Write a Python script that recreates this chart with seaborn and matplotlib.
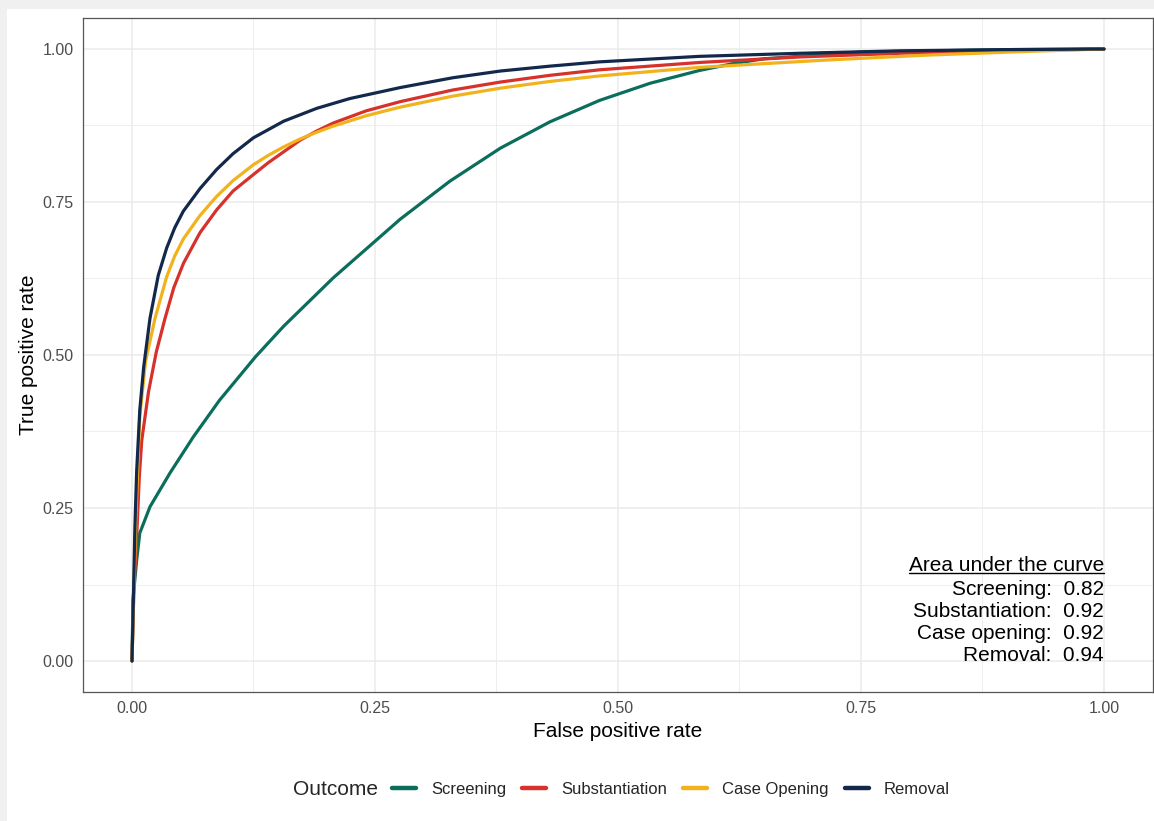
import matplotlib
matplotlib.use("Agg")
import matplotlib.pyplot as plt
from matplotlib.patches import Rectangle
from matplotlib.lines import Line2D
import seaborn as sns
import pandas as pd

# ROC curves per outcome (false positive rate, true positive rate)
screening_fpr = [0, 0.001, 0.0048, 0.008, 0.0185, 0.039, 0.063, 0.09, 0.127, 0.156, 0.207,
                 0.276, 0.327, 0.379, 0.43, 0.481, 0.533, 0.584, 0.618, 0.65, 0.75, 0.9, 1.0]
screening_tpr = [0, 0.10, 0.165, 0.209, 0.252, 0.307, 0.366, 0.426, 0.497, 0.547, 0.626,
                 0.722, 0.784, 0.838, 0.881, 0.916, 0.944, 0.965, 0.976, 0.984, 0.995, 0.999, 1.0]

substantiation_fpr = [0, 0.002, 0.005, 0.0075, 0.01, 0.017, 0.025, 0.034, 0.043, 0.053, 0.07,
                      0.087, 0.104, 0.125, 0.14, 0.156, 0.173, 0.19, 0.207, 0.241, 0.276,
                      0.33, 0.379, 0.43, 0.481, 0.584, 0.687, 0.79, 0.9, 1.0]
substantiation_tpr = [0, 0.12, 0.21, 0.30, 0.36, 0.44, 0.505, 0.56, 0.61, 0.65, 0.70,
                      0.737, 0.768, 0.795, 0.814, 0.832, 0.851, 0.866, 0.879, 0.899, 0.914,
                      0.933, 0.946, 0.957, 0.966, 0.978, 0.987, 0.993, 0.997, 1.0]

case_opening_fpr = [0, 0.002, 0.004, 0.008, 0.014, 0.0237, 0.0357, 0.044, 0.053, 0.07, 0.087,
                    0.104, 0.125, 0.14, 0.156, 0.173, 0.19, 0.207, 0.241, 0.276, 0.33,
                    0.379, 0.43, 0.481, 0.584, 0.715, 0.818, 0.92, 1.0]
case_opening_tpr = [0, 0.12, 0.236, 0.40, 0.49, 0.56, 0.628, 0.662, 0.69, 0.728, 0.759,
                    0.785, 0.811, 0.826, 0.84, 0.853, 0.864, 0.874, 0.891, 0.905, 0.923,
                    0.936, 0.947, 0.956, 0.97, 0.982, 0.99, 0.996, 1.0]

removal_fpr = [0, 0.0014, 0.003, 0.0048, 0.008, 0.012, 0.0185, 0.027, 0.0357, 0.044, 0.0528,
               0.07, 0.087, 0.104, 0.125, 0.156, 0.19, 0.224, 0.276, 0.33, 0.379, 0.43,
               0.481, 0.584, 0.687, 0.79, 0.9, 1.0]
removal_tpr = [0, 0.10, 0.22, 0.31, 0.41, 0.48, 0.56, 0.63, 0.675, 0.708, 0.735,
               0.772, 0.803, 0.829, 0.855, 0.882, 0.903, 0.919, 0.937, 0.953, 0.964, 0.972,
               0.979, 0.988, 0.993, 0.997, 0.999, 1.0]

outcomes = ["Screening", "Substantiation", "Case Opening", "Removal"]
auc_labels = ["Screening", "Substantiation", "Case opening", "Removal"]
auc_values = [0.82, 0.92, 0.92, 0.94]
colors = ["#0B6E5C", "#D7312B", "#F2B21B", "#13294B"]

ticks = [0.0, 0.25, 0.5, 0.75, 1.0]
tick_labels = ["0.00", "0.25", "0.50", "0.75", "1.00"]
minor_ticks = [0.125, 0.375, 0.625, 0.875]

frames = []
for name, fpr, tpr in zip(outcomes,
                          [screening_fpr, substantiation_fpr, case_opening_fpr, removal_fpr],
                          [screening_tpr, substantiation_tpr, case_opening_tpr, removal_tpr]):
    frames.append(pd.DataFrame({"fpr": fpr, "tpr": tpr, "Outcome": name}))
df = pd.concat(frames, ignore_index=True)

sns.set_theme(style="white")
plt.rcParams["font.family"] = ["Liberation Sans", "DejaVu Sans"]

W, H = 1154, 821
fig = plt.figure(figsize=(W / 100, H / 100), dpi=100, facecolor="white")

# light frame strips along the top and left edges
fig.patches.append(Rectangle((0, 1 - 9 / H), 1, 9 / H, transform=fig.transFigure,
                             facecolor="#f0f0f0", edgecolor="none", zorder=0))
fig.patches.append(Rectangle((0, 0), 7 / W, 1, transform=fig.transFigure,
                             facecolor="#f0f0f0", edgecolor="none", zorder=0))

ax = fig.add_axes([83.4 / W, 1 - 691.6 / H, (1152.6 - 83.4) / W, (691.6 - 18.4) / H])
ax.set_facecolor("white")

sns.lineplot(data=df, x="fpr", y="tpr", hue="Outcome", hue_order=outcomes,
             palette=dict(zip(outcomes, colors)), estimator=None, sort=False,
             linewidth=2.3, ax=ax, legend=False)

ax.set_xlim(-0.05, 1.05)
ax.set_ylim(-0.05, 1.05)
ax.set_xticks(ticks)
ax.set_xticklabels(tick_labels)
ax.set_yticks(ticks)
ax.set_yticklabels(tick_labels)
ax.set_xticks(minor_ticks, minor=True)
ax.set_yticks(minor_ticks, minor=True)
ax.grid(which="major", color="#ebebeb", linewidth=1.1)
ax.grid(which="minor", color="#ebebeb", linewidth=0.6)
ax.set_axisbelow(True)
ax.tick_params(which="major", length=4, width=1, color="#333333", labelsize=11.5,
               labelcolor="#4d4d4d", pad=3, direction="out")
ax.tick_params(which="minor", length=0)
for s in ax.spines.values():
    s.set_color("#555555")
    s.set_linewidth(0.9)

ax.set_xlabel("False positive rate", fontsize=15, color="black", labelpad=4)
ax.set_ylabel("True positive rate", fontsize=15, color="black", labelpad=3.5)

# AUC summary in the lower-right corner
body = "\n".join(f"{lab}:  {val:.2f}" for lab, val in zip(auc_labels, auc_values))
ax.annotate(body, xy=(1.0, 0.0), xycoords="data", ha="right", va="bottom",
            fontsize=15, linespacing=1.2, color="black", xytext=(0, -3),
            textcoords="offset points")
title = ax.annotate("Area under the curve", xy=(1.0, 0.0), xycoords="data", ha="right",
                    va="bottom", fontsize=15, color="black", xytext=(0, 62),
                    textcoords="offset points")
fig.canvas.draw()
bb = title.get_window_extent(fig.canvas.get_renderer())
inv = fig.transFigure.inverted()
x0, y0 = inv.transform((bb.x0, bb.y0 + 2))
x1, _ = inv.transform((bb.x1, bb.y0 + 2))
fig.add_artist(Line2D([x0, x1], [y0, y0], transform=fig.transFigure, color="black",
                      linewidth=1.0))

# legend along the bottom with the title on the left
handles = [Line2D([0], [0], color=c, linewidth=3.2) for c in colors]
fig.text(293 / W, 1 - 789 / H, "Outcome", fontsize=15, ha="left", va="center")
fig.legend(handles, outcomes, loc="center left", bbox_to_anchor=(392 / W, 1 - 789 / H),
           ncol=4, frameon=False, fontsize=12, handlelength=1.45, handletextpad=0.9,
           columnspacing=0.95, borderpad=0, borderaxespad=0)

fig.savefig("out.png", dpi=100, facecolor="white")
